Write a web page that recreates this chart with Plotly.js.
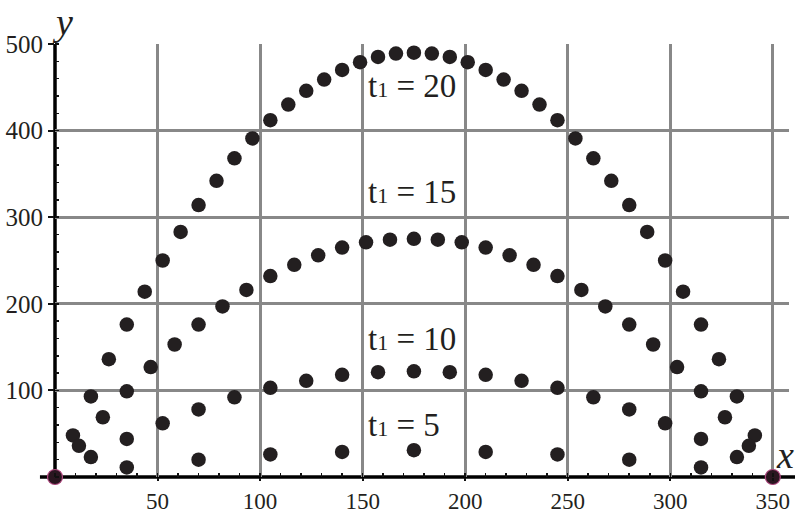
<!DOCTYPE html>
<html>
<head>
<meta charset="utf-8">
<script src="https://cdn.plot.ly/plotly-3.0.1.min.js"></script>
<style>
  html, body { margin: 0; padding: 0; background: #fff; }
  #chart { width: 795px; height: 513px; }
</style>
</head>
<body>
<div id="chart"></div>
<script>
// Projectile paths for four flight times t1, sampled at equal time steps.
const x_t20 = [0, 8.75, 17.5, 26.25, 35, 43.75, 52.5, 61.25, 70, 78.75, 87.5, 96.25, 105, 113.75, 122.5, 131.25, 140, 148.75, 157.5, 166.25, 175,
               183.75, 192.5, 201.25, 210, 218.75, 227.5, 236.25, 245, 253.75, 262.5, 271.25, 280, 288.75, 297.5, 306.25, 315, 323.75, 332.5, 341.25, 350];
const y_t20 = [0, 48, 93, 136, 176, 214, 250, 283, 314, 342, 368, 391, 412, 430, 446, 459, 470, 479, 485, 489, 490,
               489, 485, 479, 470, 459, 446, 430, 412, 391, 368, 342, 314, 283, 250, 214, 176, 136, 93, 48, 0];

const x_t15 = [0, 11.67, 23.33, 35, 46.67, 58.33, 70, 81.67, 93.33, 105, 116.67, 128.33, 140, 151.67, 163.33, 175,
               186.67, 198.33, 210, 221.67, 233.33, 245, 256.67, 268.33, 280, 291.67, 303.33, 315, 326.67, 338.33, 350];
const y_t15 = [0, 36, 69, 99, 127, 153, 176, 197, 216, 232, 245, 256, 265, 271, 274, 275,
               274, 271, 265, 256, 245, 232, 216, 197, 176, 153, 127, 99, 69, 36, 0];

const x_t10 = [0, 17.5, 35, 52.5, 70, 87.5, 105, 122.5, 140, 157.5, 175, 192.5, 210, 227.5, 245, 262.5, 280, 297.5, 315, 332.5, 350];
const y_t10 = [0, 23, 44, 62, 78, 92, 103, 111, 118, 121, 122, 121, 118, 111, 103, 92, 78, 62, 44, 23, 0];

const x_t5 = [0, 35, 70, 105, 140, 175, 210, 245, 280, 315, 350];
const y_t5 = [0, 11, 20, 26, 29, 31, 29, 26, 20, 11, 0];

// Launch and landing points shared by every path
const x_ends = [0, 350];
const y_ends = [0, 0];

const xTicks = [50, 100, 150, 200, 250, 300, 350];
const yTicks = [100, 200, 300, 400, 500];

const labelText = ['t<span style="font-size:22px">1</span> = 20', 't<span style="font-size:22px">1</span> = 15',
                   't<span style="font-size:22px">1</span> = 10', 't<span style="font-size:22px">1</span> = 5'];
const labelX = [151.5, 151.5, 151.5, 151.5];
const labelY = [452, 329, 159, 60];

const dotColor = '#231f20';
const serif = 'Liberation Serif, DejaVu Serif, serif';

function path(xs, ys) {
  return {
    x: xs, y: ys, type: 'scatter', mode: 'markers', cliponaxis: false,
    marker: { size: 14.5, color: dotColor }, hoverinfo: 'x+y'
  };
}

const traces = [
  path(x_t20, y_t20),
  path(x_t15, y_t15),
  path(x_t10, y_t10),
  path(x_t5, y_t5),
  {
    x: x_ends, y: y_ends, type: 'scatter', mode: 'markers', cliponaxis: false,
    marker: { size: 15, color: '#2a1620', line: { color: '#b04a80', width: 1.2 } }, hoverinfo: 'x+y'
  }
];

const annotations = labelText.map((t, i) => ({
  x: labelX[i], y: labelY[i], xref: 'x', yref: 'y', text: t, showarrow: false,
  xanchor: 'left', yanchor: 'middle', font: { family: serif, size: 33, color: dotColor }
}));

// Axis names
annotations.push({
  xref: 'paper', yref: 'paper', x: 0.0105, y: 1.051, text: '<i>y</i>', showarrow: false,
  xanchor: 'center', yanchor: 'middle', font: { family: serif, size: 38, color: dotColor }
});
annotations.push({
  xref: 'paper', yref: 'paper', x: 0.995, y: 0.051, text: '<i>x</i>', showarrow: false,
  xanchor: 'center', yanchor: 'middle', font: { family: serif, size: 38, color: dotColor }
});

const gridColor = '#888888';

const layout = {
  width: 795, height: 513,
  margin: { l: 55, r: 6, t: 44, b: 36, pad: 0 },
  paper_bgcolor: '#ffffff', plot_bgcolor: '#ffffff',
  showlegend: false,
  font: { family: serif, size: 25, color: dotColor },
  xaxis: {
    range: [0, 357.9], tickmode: 'array', tickvals: xTicks,
    ticks: 'outside', ticklen: 3, tickwidth: 2, tickcolor: '#111',
    tickfont: { family: serif, size: 23, color: dotColor },
    showgrid: true, gridcolor: gridColor, gridwidth: 3,
    zeroline: false, showline: false, fixedrange: true,
    minor: { tickmode: 'linear', tick0: 0, dtick: 10, ticks: 'inside', ticklen: 4, tickwidth: 1.5, tickcolor: '#111', showgrid: false }
  },
  yaxis: {
    range: [0, 500], tickmode: 'array', tickvals: yTicks,
    ticks: 'outside', ticklen: 6, tickwidth: 2, tickcolor: '#111',
    tickfont: { family: serif, size: 25, color: dotColor },
    showgrid: true, gridcolor: gridColor, gridwidth: 3,
    zeroline: false, showline: false, fixedrange: true,
    minor: { tickmode: 'linear', tick0: 0, dtick: 20, ticks: 'inside', ticklen: 4, tickwidth: 1.5, tickcolor: '#111', showgrid: false }
  },
  shapes: [
    // horizontal axis, running a little past both ends of the plot
    { type: 'line', layer: 'between', xref: 'paper', yref: 'paper', x0: -0.0205, x1: 1.0082, y0: 0, y1: 0,
      line: { color: '#000', width: 3.5 } },
    // vertical axis
    { type: 'line', layer: 'between', xref: 'paper', yref: 'paper', x0: 0, x1: 0, y0: 0, y1: 1,
      line: { color: '#000', width: 3.5 } }
  ],
  annotations: annotations
};

Plotly.newPlot('chart', traces, layout, { displayModeBar: false, staticPlot: true });
</script>
</body>
</html>
